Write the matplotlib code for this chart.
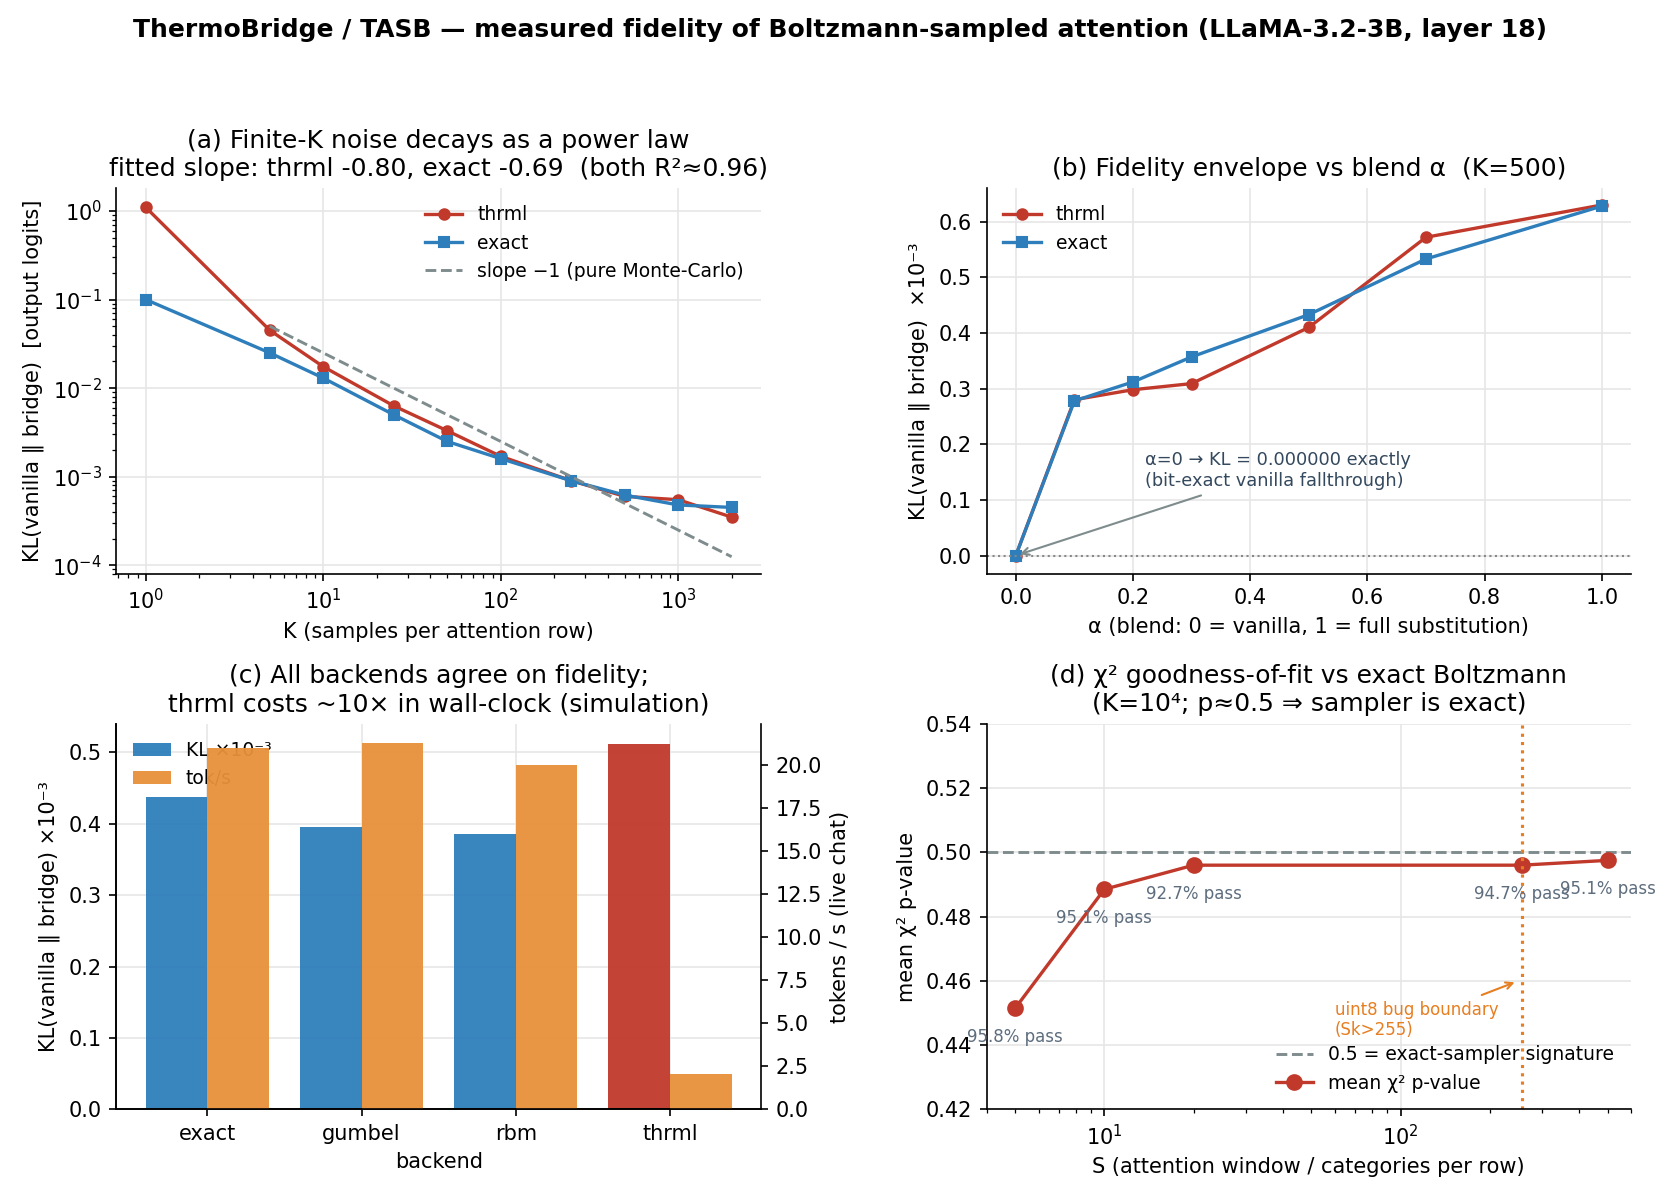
import numpy as np
import matplotlib
matplotlib.use("Agg")
import matplotlib.pyplot as plt

RED = "#c0392b"; BLUE = "#2e7ebb"; ORANGE = "#e8913a"

# (a) finite-K noise
k_vals = [1, 5, 10, 25, 50, 100, 250, 500, 1000, 2000]
kl_thrml = [1.1, 0.045, 0.0175, 0.0063, 0.0033, 0.0017, 0.0009, 0.0006, 0.00055, 0.00035]
kl_exact = [0.1, 0.025, 0.013, 0.005, 0.0025, 0.0016, 0.0009, 0.00062, 0.00048, 0.00045]
mc_k = [5, 2000]
mc_kl = [0.05, 0.000125]

# (b) blend alpha
alphas = [0, 0.1, 0.2, 0.3, 0.5, 0.7, 1.0]
b_thrml = [0, 0.280, 0.298, 0.309, 0.410, 0.572, 0.630]
b_exact = [0, 0.278, 0.312, 0.357, 0.433, 0.533, 0.628]

# (c) backends
backends = ["exact", "gumbel", "rbm", "thrml"]
c_kl = [0.437, 0.395, 0.385, 0.512]
c_tok = [21.0, 21.3, 20.0, 2.05]

# (d) chi2
s_vals = [5, 10, 20, 256, 500]
p_vals = [0.4515, 0.4885, 0.4960, 0.4960, 0.4975]
pass_labels = ["95.8% pass", "95.1% pass", "92.7% pass", "94.7% pass", "95.1% pass"]

fig, axs = plt.subplots(2, 2, figsize=(11.2, 8), dpi=150)
fig.suptitle("ThermoBridge / TASB — measured fidelity of Boltzmann-sampled attention (LLaMA-3.2-3B, layer 18)",
             fontweight="bold", fontsize=12, y=0.985)

def style(ax):
    ax.grid(True, color="#e6e6e6", lw=0.8)
    ax.set_axisbelow(True)
    for s in ("top", "right"):
        ax.spines[s].set_visible(False)

ax = axs[0, 0]; style(ax)
ax.loglog(k_vals, kl_thrml, "-o", color=RED, lw=1.6, ms=5, label="thrml")
ax.loglog(k_vals, kl_exact, "-s", color=BLUE, lw=1.6, ms=5, label="exact")
ax.loglog(mc_k, mc_kl, "--", color="#7f8c8d", lw=1.4, label="slope −1 (pure Monte-Carlo)")
ax.set_ylim(8e-5, 1.8)
ax.set_xlabel("K (samples per attention row)")
ax.set_ylabel("KL(vanilla ‖ bridge)  [output logits]")
ax.set_title("(a) Finite-K noise decays as a power law\nfitted slope: thrml -0.80, exact -0.69  (both R²≈0.96)")
ax.legend(frameon=False, fontsize=9)

ax = axs[0, 1]; style(ax)
ax.plot(alphas, b_thrml, "-o", color=RED, lw=1.6, ms=5, label="thrml")
ax.plot(alphas, b_exact, "-s", color=BLUE, lw=1.6, ms=5, label="exact")
ax.axhline(0, color="#888888", ls=":", lw=1)
ax.set_ylim(-0.033, 0.66)
ax.set_xlabel("α (blend: 0 = vanilla, 1 = full substitution)")
ax.set_ylabel("KL(vanilla ‖ bridge)  ×10⁻³")
ax.set_title("(b) Fidelity envelope vs blend α  (K=500)")
ax.annotate("α=0 → KL = 0.000000 exactly\n(bit-exact vanilla fallthrough)", xy=(0, 0), xytext=(0.22, 0.125),
            fontsize=8.5, color="#34495e",
            arrowprops=dict(arrowstyle="->", color="#7f8c8d", lw=1))
ax.legend(frameon=False, fontsize=9, loc="upper left")

ax = axs[1, 0]; style(ax)
x = np.arange(len(backends)); w = 0.4
kl_colors = [BLUE, BLUE, BLUE, RED]
bars = ax.bar(x - w / 2, c_kl, w, color=kl_colors, alpha=0.95, label="KL ×10⁻³")
ax2 = ax.twinx()
ax2.bar(x + w / 2, c_tok, w, color=ORANGE, alpha=0.95, label="tok/s")
ax2.spines["top"].set_visible(False)
ax.set_ylim(0, 0.54); ax2.set_ylim(0, 22.4)
ax2.set_yticks(np.arange(0, 21, 2.5))
ax.set_xticks(x); ax.set_xticklabels(backends)
ax.set_xlabel("backend")
ax.set_ylabel("KL(vanilla ‖ bridge) ×10⁻³")
ax2.set_ylabel("tokens / s (live chat)")
ax.set_title("(c) All backends agree on fidelity;\nthrml costs ~10× in wall-clock (simulation)")
h1, l1 = ax.get_legend_handles_labels(); h2, l2 = ax2.get_legend_handles_labels()
ax.legend(h1 + h2, l1 + l2, frameon=False, fontsize=9, loc="upper left")

ax = axs[1, 1]; style(ax)
ax.axhline(0.5, color="#7f8c8d", ls="--", lw=1.4, label="0.5 = exact-sampler signature")
ax.plot(s_vals, p_vals, "-o", color=RED, lw=1.6, ms=7, label="mean χ² p-value")
ax.set_xscale("log")
ax.axvline(256, color="#e67e22", ls=":", lw=1.5)
for s, p, t in zip(s_vals, p_vals, pass_labels):
    ax.annotate(t, (s, p), xytext=(0, -16), textcoords="offset points", ha="center",
                fontsize=8, color="#5d6d7e")
ax.annotate("uint8 bug boundary\n(Sk>255)", xy=(250, 0.46), xytext=(60, 0.443),
            fontsize=8, color="#e67e22",
            arrowprops=dict(arrowstyle="->", color="#e67e22", lw=1))
ax.set_ylim(0.42, 0.54); ax.set_xlim(4, 600)
ax.set_xlabel("S (attention window / categories per row)")
ax.set_ylabel("mean χ² p-value")
ax.set_title("(d) χ² goodness-of-fit vs exact Boltzmann\n(K=10⁴; p≈0.5 ⇒ sampler is exact)")
ax.legend(frameon=False, fontsize=9, loc="lower right")

fig.tight_layout(rect=[0, 0, 1, 0.95])
fig.subplots_adjust(wspace=0.35)
fig.savefig("out.png", dpi=150)
